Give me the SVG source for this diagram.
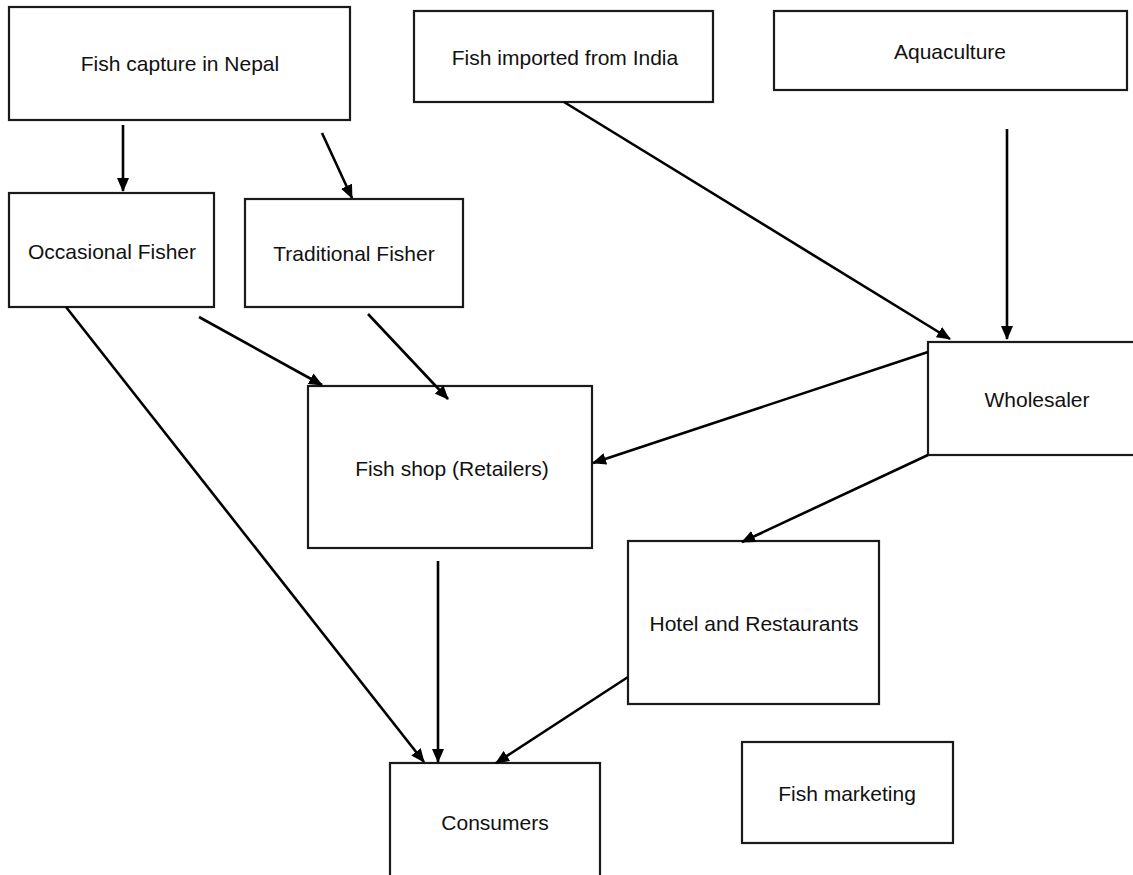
<svg xmlns="http://www.w3.org/2000/svg" width="1133" height="875" viewBox="0 0 1133 875">
<style>
.box{fill:#fff;stroke:#1a1a1a;stroke-width:2.2}
.lbl{font-family:"Liberation Sans",Arial,sans-serif;font-size:21px;fill:#111;text-anchor:middle}
.con{stroke:#000;stroke-width:2.6;fill:none;marker-end:url(#ah)}
</style>
<defs>
<marker id="ah" markerUnits="userSpaceOnUse" markerWidth="14" markerHeight="12" viewBox="0 0 14 12" refX="13" refY="6" orient="auto">
<path d="M0,0 L14,6 L0,12 Z" fill="#000"/>
</marker>
</defs>
<rect width="1133" height="875" fill="#fff"/>
<g id="capture"><rect class="box" x="9" y="7" width="341" height="113"/><text class="lbl" x="180" y="71">Fish capture in Nepal</text></g>
<g id="india"><rect class="box" x="414" y="11" width="299" height="91"/><text class="lbl" x="565" y="65">Fish imported from India</text></g>
<g id="aquaculture"><rect class="box" x="774" y="11" width="353" height="79"/><text class="lbl" x="950" y="59">Aquaculture</text></g>
<g id="occasional"><rect class="box" x="9" y="193" width="205" height="114"/><text class="lbl" x="112" y="259">Occasional Fisher</text></g>
<g id="traditional"><rect class="box" x="245" y="199" width="218" height="108"/><text class="lbl" x="354" y="261">Traditional Fisher</text></g>
<g id="wholesaler"><rect class="box" x="928" y="342" width="210" height="113"/><text class="lbl" x="1037" y="407">Wholesaler</text></g>
<g id="fishshop"><rect class="box" x="308" y="386" width="284" height="162"/><text class="lbl" x="452" y="476">Fish shop (Retailers)</text></g>
<g id="hotel"><rect class="box" x="628" y="541" width="251" height="163"/><text class="lbl" x="754" y="631">Hotel and Restaurants</text></g>
<g id="consumers"><rect class="box" x="390" y="763" width="210" height="120"/><text class="lbl" x="495" y="830">Consumers</text></g>
<g id="marketing"><rect class="box" x="742" y="742" width="211" height="101"/><text class="lbl" x="847" y="801">Fish marketing</text></g>
<g id="connectors">
<line class="con" x1="123" y1="125" x2="123" y2="191"/>
<line class="con" x1="322" y1="133" x2="352" y2="198"/>
<line class="con" x1="564" y1="102" x2="950" y2="339"/>
<line class="con" x1="1007" y1="129" x2="1007" y2="339"/>
<line class="con" x1="199" y1="317" x2="322" y2="385"/>
<line class="con" x1="368" y1="314" x2="448" y2="399"/>
<line class="con" x1="928" y1="352" x2="593" y2="463"/>
<line class="con" x1="928" y1="455" x2="742" y2="542"/>
<line class="con" x1="66" y1="307" x2="424" y2="762"/>
<line class="con" x1="438" y1="561" x2="438" y2="762"/>
<line class="con" x1="628" y1="677" x2="496" y2="763"/>
</g>
</svg>
